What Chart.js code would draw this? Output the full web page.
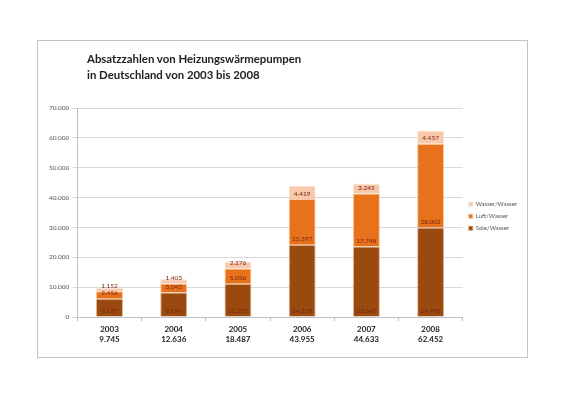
<!DOCTYPE html>
<html>
<head>
<meta charset="utf-8">
<script src="https://cdn.jsdelivr.net/npm/chart.js@4"></script>
<style>
  html, body { margin: 0; padding: 0; background: #fff; }
  #frame {
    position: absolute; left: 37px; top: 40px; width: 489px; height: 316px;
    border: 1px solid #c4c4c4; background: #fff;
  }
  #title {
    position: absolute; left: 49px; top: 10px;
    font-family: Lato, "Open Sans", sans-serif; font-weight: bold;
    font-size: 11.4px; line-height: 16px; color: #222;
  }
  #myChart { position: absolute; left: 0; top: 0; }
</style>
</head>
<body>
<div id="frame">
  <canvas id="myChart" width="489" height="316"></canvas>
  <div id="title">Absatzzahlen von Heizungswärmepumpen<br>in Deutschland von 2003 bis 2008</div>
</div>
<script>
var years = ["2003", "2004", "2005", "2006", "2007", "2008"];
var totals = ["9.745", "12.636", "18.487", "43.955", "44.633", "62.452"];
var soleWasser = [6137, 8190, 11155, 24239, 23640, 29993];
var luftWasser = [2456, 3043, 5056, 15297, 17748, 28002];
var wasserWasser = [1152, 1403, 2276, 4419, 3245, 4457];

function fmt(v) {
    return String(v).replace(/\B(?=(\d{3})+(?!\d))/g, ".");
}

// labels drawn just above the base of each segment, like the Excel original
var segmentLabels = {
    id: 'segmentLabels',
    afterDatasetsDraw: function (chart) {
        var c = chart.ctx;
        c.save();
        c.font = '6.5px Lato, "Open Sans", sans-serif';
        c.fillStyle = '#7a2412';
        c.textAlign = 'center';
        c.textBaseline = 'middle';
        chart.data.datasets.forEach(function (ds, i) {
            chart.getDatasetMeta(i).data.forEach(function (bar, j) {
                c.fillText(fmt(ds.data[j]), bar.x, bar.base - 5.5);
            });
        });
        c.restore();
    }
};

var ctx = document.getElementById("myChart");
var myChart = new Chart(ctx, {
    type: 'bar',
    data: {
        labels: years,
        datasets: [{
            label: 'Sole/Wasser',
            data: soleWasser,
            backgroundColor: '#9b4a0f',
            borderColor: 'rgba(214, 150, 100, 0.7)',
            borderWidth: 1
        }, {
            label: 'Luft/Wasser',
            data: luftWasser,
            backgroundColor: '#e8721b',
            borderColor: 'rgba(248, 190, 140, 0.8)',
            borderWidth: 1
        }, {
            label: 'Wasser/Wasser',
            data: wasserWasser,
            backgroundColor: '#f8c8ab',
            borderColor: 'rgba(252, 225, 210, 0.9)',
            borderWidth: 1
        }]
    },
    options: {
        responsive: false,
        animation: false,
        datasets: {
            bar: { categoryPercentage: 1, barPercentage: 0.42 }
        },
        layout: {
            padding: { top: 67, left: 8, right: 0, bottom: 10 }
        },
        plugins: {
            title: { display: false },
            tooltip: { enabled: false },
            legend: {
                position: 'right',
                align: 'start',
                reverse: true,
                // empty legend title only pushes the entries down to mid-height
                title: { display: true, text: '', padding: { top: 80, bottom: 0 }, font: { size: 6 } },
                labels: {
                    boxWidth: 4,
                    boxHeight: 4,
                    padding: 6,
                    color: '#555',
                    font: { size: 6, family: 'Lato, "Open Sans", sans-serif' }
                }
            }
        },
        scales: {
            x: {
                stacked: true,
                grid: {
                    offset: true,
                    drawOnChartArea: false,
                    tickLength: 4,
                    color: '#bfbfbf'
                },
                border: { color: '#bfbfbf' },
                ticks: {
                    color: '#222',
                    padding: 3,
                    font: { size: 8, weight: 'bold', family: 'Lato, "Open Sans", sans-serif', lineHeight: 1.25 },
                    callback: function (v, i) { return [years[i], totals[i]]; }
                }
            },
            y: {
                stacked: true,
                min: 0,
                max: 70000,
                ticks: {
                    stepSize: 10000,
                    color: '#555',
                    padding: 3,
                    font: { size: 6.5, family: 'Lato, "Open Sans", sans-serif' },
                    callback: function (v) { return fmt(v); }
                },
                grid: { color: '#d9d9d9', tickLength: 5 },
                border: { color: '#bfbfbf' }
            }
        }
    },
    plugins: [segmentLabels]
});
</script>
</body>
</html>
